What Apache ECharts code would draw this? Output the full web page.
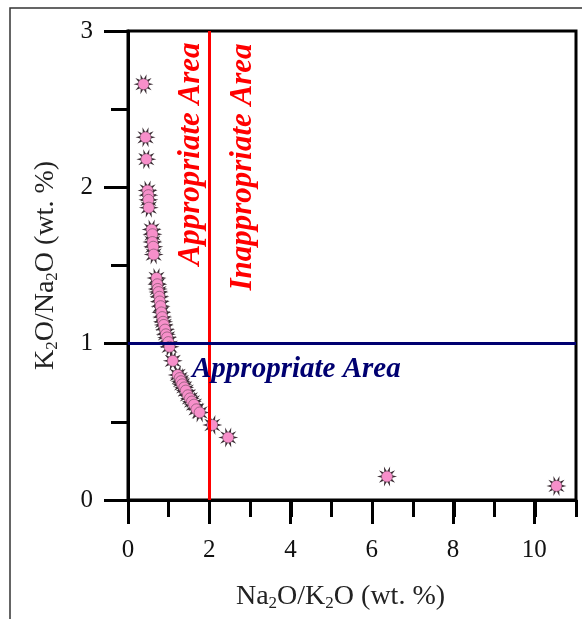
<!DOCTYPE html>
<html>
<head>
<meta charset="utf-8">
<script src="https://cdn.jsdelivr.net/npm/echarts@6/dist/echarts.min.js"></script>
<style>
  html, body { margin: 0; padding: 0; background: #fff; }
  #main { width: 582px; height: 619px; }
</style>
</head>
<body>
<div id="main"></div>
<script>
// Na2O/K2O ratio (x) and K2O/Na2O ratio (y) for each sample
var naK = [0.38, 0.43, 0.45, 0.48, 0.50, 0.50, 0.51, 0.58, 0.60, 0.60, 0.62, 0.63,
           0.70, 0.72, 0.73, 0.75, 0.77, 0.78, 0.80, 0.82, 0.84, 0.86, 0.88, 0.91,
           0.93, 0.96, 0.99, 1.02, 1.10, 1.22, 1.27, 1.30, 1.33, 1.38, 1.42, 1.47,
           1.52, 1.57, 1.62, 1.68, 1.76, 2.07, 2.46, 6.36, 10.52];
var kNa = [2.66, 2.32, 2.18, 1.98, 1.95, 1.92, 1.87, 1.73, 1.70, 1.65, 1.62, 1.57,
           1.42, 1.38, 1.35, 1.33, 1.30, 1.27, 1.24, 1.20, 1.17, 1.14, 1.12, 1.09,
           1.06, 1.04, 1.01, 0.98, 0.89, 0.80, 0.78, 0.76, 0.74, 0.72, 0.70, 0.67,
           0.65, 0.63, 0.61, 0.58, 0.56, 0.48, 0.40, 0.15, 0.09];
var xLimit = 2;   // red boundary
var yLimit = 1;   // blue boundary

var points = naK.map(function (x, i) { return [x, kNa[i]]; });

function burst(n, inner) {
  var d = '';
  for (var i = 0; i < 2 * n; i++) {
    var r = i % 2 ? inner : 1;
    var a = Math.PI * i / n;
    d += (i ? 'L' : 'M') + (50 + 50 * r * Math.cos(a)).toFixed(2) + ' ' + (50 + 50 * r * Math.sin(a)).toFixed(2);
  }
  return 'path://' + d + 'Z';
}

var serif = 'Liberation Serif';
var rich = {
  n: { fontFamily: serif, fontSize: 28, color: '#222', lineHeight: 30 },
  s: { fontFamily: serif, fontSize: 17, color: '#222', lineHeight: 17, verticalAlign: 'bottom' }
};

var chart = echarts.init(document.getElementById('main'));
chart.setOption({
  backgroundColor: '#fff',
  animation: false,
  grid: [
    { left: 128, top: 31, right: 6, bottom: 119, show: true, borderColor: '#000', borderWidth: 3 },
    { left: 128, top: 31, width: 447 * 10 / 11, bottom: 119 }
  ],
  xAxis: [
    {
      gridIndex: 0, type: 'value', min: 0, max: 11, interval: 1,
      axisLine: { lineStyle: { color: '#000', width: 3 } },
      axisTick: { length: 17, lineStyle: { color: '#000', width: 3 } },
      axisLabel: { show: false },
      splitLine: { show: false },
      name: '{n|Na}{s|2}{n|O/K}{s|2}{n|O (wt. %)}',
      nameLocation: 'middle', nameGap: 82,
      nameTextStyle: { rich: rich, padding: [0, 23, 0, 0] }
    },
    {
      gridIndex: 1, type: 'value', min: 0, max: 10, interval: 2,
      axisLine: { show: false },
      axisTick: { length: 24, lineStyle: { color: '#000', width: 3 } },
      axisLabel: { fontFamily: serif, fontSize: 25, color: '#111', margin: 38 },
      splitLine: { show: false }
    }
  ],
  yAxis: [
    {
      gridIndex: 0, type: 'value', min: 0, max: 3, interval: 0.5,
      axisLine: { lineStyle: { color: '#000', width: 3 } },
      axisTick: { length: 17, lineStyle: { color: '#000', width: 3 } },
      axisLabel: { show: false },
      splitLine: { show: false }
    },
    {
      gridIndex: 0, type: 'value', min: 0, max: 3, interval: 1, position: 'left',
      axisLine: { show: false },
      axisTick: { length: 24, lineStyle: { color: '#000', width: 3 } },
      axisLabel: { fontFamily: serif, fontSize: 25, color: '#111', margin: 35 },
      splitLine: { show: false },
      name: '{n|K}{s|2}{n|O/Na}{s|2}{n|O (wt. %)}',
      nameLocation: 'middle', nameGap: 67, nameRotate: 90,
      nameTextStyle: { rich: rich }
    },
    { gridIndex: 1, type: 'value', min: 0, max: 3, show: false }
  ],
  series: [
    {
      type: 'scatter', xAxisIndex: 0, yAxisIndex: 0, z: 3,
      data: points,
      symbol: burst(10, 0.45), symbolSize: 20,
      itemStyle: { color: '#3b2c34', opacity: 1 },
      markLine: {
        silent: true, symbol: 'none', label: { show: false },
        data: [
          { xAxis: xLimit, lineStyle: { color: '#ff0000', width: 3, type: 'solid' } },
          { yAxis: yLimit, lineStyle: { color: '#000070', width: 3, type: 'solid' } }
        ]
      }
    },
    {
      type: 'scatter', xAxisIndex: 0, yAxisIndex: 0, z: 4,
      data: points,
      symbol: 'circle', symbolSize: 11,
      itemStyle: { color: '#f78fca', borderColor: '#6a4a5a', borderWidth: 0.6, opacity: 1 }
    }
  ],
  graphic: [
    { type: 'rect', shape: { x: 10, y: 8, width: 800, height: 800 }, style: { fill: null, stroke: '#333', lineWidth: 1.5 }, silent: true },
    { type: 'text', x: 191, y: 154, rotation: Math.PI / 2, z: 10,
      style: { text: 'Appropriate Area', fill: '#ff0000', font: 'italic bold 31px "Liberation Serif"', align: 'center', verticalAlign: 'middle' } },
    { type: 'text', x: 243, y: 167, rotation: Math.PI / 2, z: 10,
      style: { text: 'Inappropriate Area', fill: '#ff0000', font: 'italic bold 31px "Liberation Serif"', align: 'center', verticalAlign: 'middle' } },
    { type: 'text', x: 192, y: 370, z: 10,
      style: { text: 'Appropriate Area', fill: '#000070', font: 'italic bold 29px "Liberation Serif"', align: 'left', verticalAlign: 'middle' } }
  ]
});
</script>
</body>
</html>
